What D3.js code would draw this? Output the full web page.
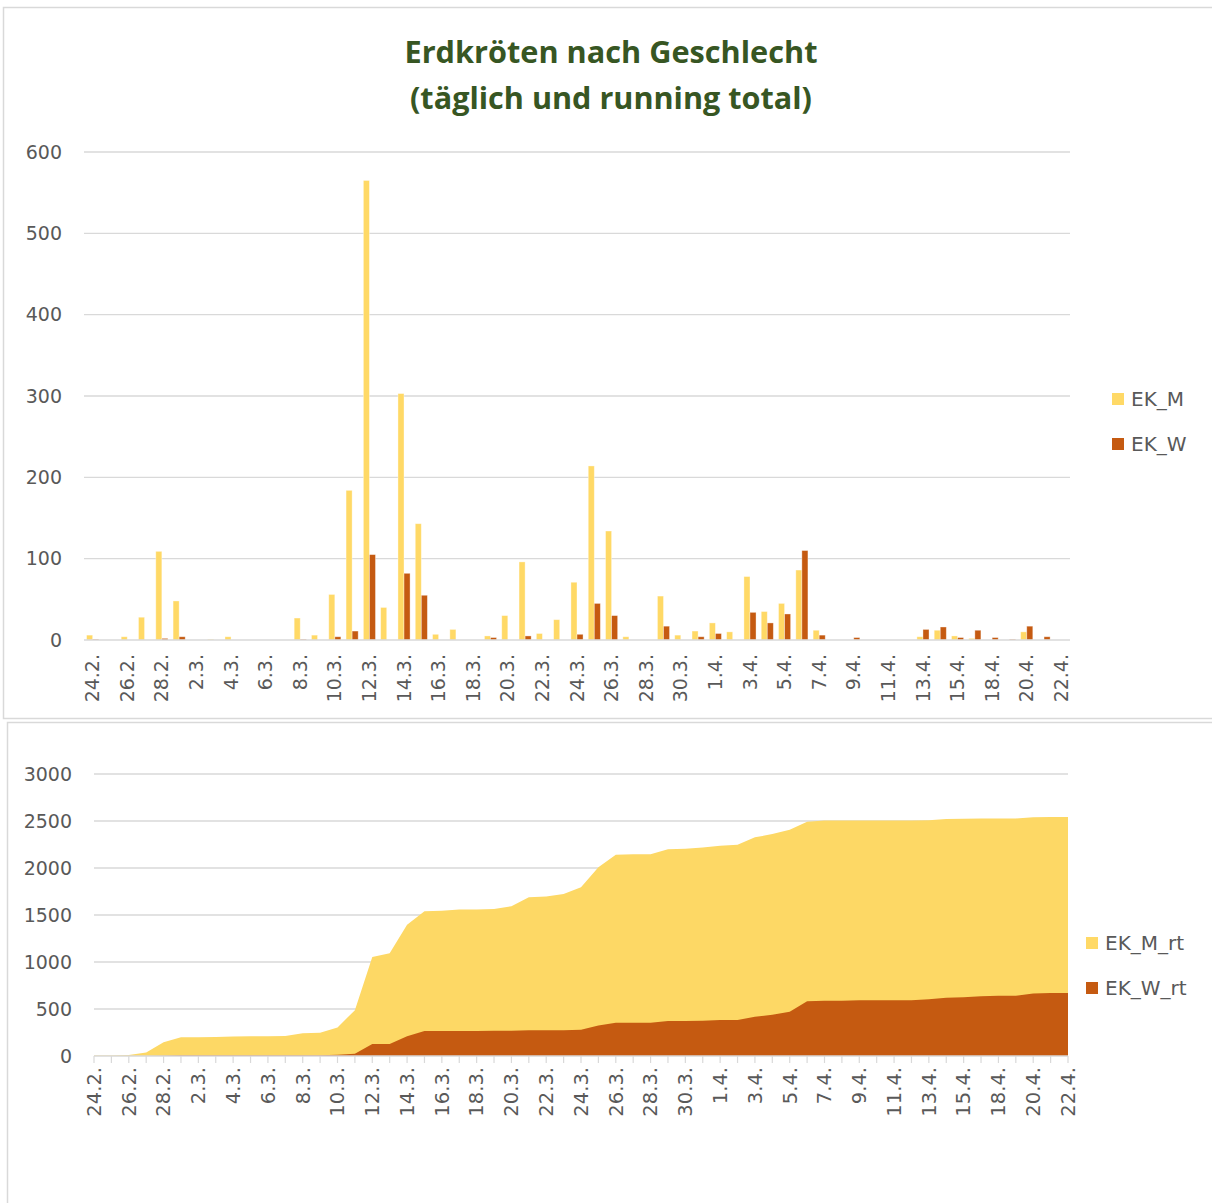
<!DOCTYPE html>
<html><head><meta charset="utf-8">
<script src="https://cdn.jsdelivr.net/npm/d3@7"></script>
<style>
html,body{margin:0;padding:0;background:#fff;}
svg{display:block;font-family:"DejaVu Sans","Open Sans",sans-serif;}
</style></head>
<body>
<svg id="chart" width="1212" height="1203"></svg>
<script>
// ---- data ----
const categories = ["24.2.","25.2.","26.2.","27.2.","28.2.","1.3.","2.3.","3.3.","4.3.","5.3.","6.3.","7.3.","8.3.","9.3.","10.3.","11.3.","12.3.","13.3.","14.3.","15.3.","16.3.","17.3.","18.3.","19.3.","20.3.","21.3.","22.3.","23.3.","24.3.","25.3.","26.3.","27.3.","28.3.","29.3.","30.3.","31.3.","1.4.","2.4.","3.4.","4.4.","5.4.","6.4.","7.4.","8.4.","9.4.","10.4.","11.4.","12.4.","13.4.","14.4.","15.4.","17.4.","18.4.","19.4.","20.4.","21.4.","22.4."];
const EK_M = [6,0,4,28,109,48,0,1,4,0,0,0,27,6,56,184,565,40,303,143,7,13,0,5,30,96,8,25,71,214,134,4,0,54,6,11,21,10,78,35,45,86,12,0,0,0,0,0,4,12,5,2,0,0,10,0,0];
const EK_W = [1,0,0,0,2,4,0,0,0,0,0,0,1,0,4,11,105,0,82,55,0,0,0,3,0,5,0,0,7,45,30,0,0,17,0,4,8,0,34,21,32,110,6,0,3,0,0,0,13,16,3,12,3,1,17,4,0];
const EK_M_rt = [6,6,10,38,147,199,200,203,208,209,210,213,242,248,304,488,1053,1093,1396,1539,1546,1559,1559,1564,1594,1690,1698,1723,1794,2008,2142,2146,2146,2200,2206,2217,2238,2248,2326,2361,2406,2492,2504,2504,2504,2504,2504,2504,2508,2520,2525,2527,2527,2527,2541,2543,2543];
const EK_W_rt = [1,1,1,1,3,7,7,7,7,7,7,7,8,8,12,23,128,128,210,265,265,265,265,268,268,273,273,273,280,325,355,355,355,372,372,376,384,384,418,439,471,583,589,589,592,592,592,592,605,621,624,636,641,642,664,670,670];
const topTicks = [0,100,200,300,400,500,600];
const bottomTicks = [0,500,1000,1500,2000,2500,3000];
const titleLines = ["Erdkröten nach Geschlecht","(täglich und running total)"];
const seriesTop = ["EK_M","EK_W"];
const seriesBottom = ["EK_M_rt","EK_W_rt"];

const colM = "#FFD966", colW = "#C55A11", grid = "#D9D9D9", txt = "#595959";
const svg = d3.select("#chart");

// panel frames
svg.append("rect").attr("x",3.5).attr("y",7.5).attr("width",1240).attr("height",711)
  .attr("fill","#fff").attr("stroke",grid).attr("stroke-width",1.5);
svg.append("rect").attr("x",7.5).attr("y",722.5).attr("width",1240).attr("height",520)
  .attr("fill","#fff").attr("stroke",grid).attr("stroke-width",1.5);

// title
const titleW = [413, 402];
titleLines.forEach((t,i)=>{
  svg.append("text").attr("x",611).attr("y",[63,109][i]).attr("text-anchor","middle")
    .attr("font-family","'Open Sans','Noto Sans',sans-serif")
    .attr("font-size",30).attr("font-weight","bold").attr("fill","#375623")
    .attr("textLength",titleW[i]).attr("lengthAdjust","spacingAndGlyphs").text(t);
});

// ---- top bar chart ----
const x0 = d3.scaleBand().domain(categories).range([84,1070]).paddingInner(0.3).paddingOuter(0.15);
const x1 = d3.scaleBand().domain(seriesTop).range([0,x0.bandwidth()]);
const yT = d3.scaleLinear().domain([0,600]).range([640,152]);

const gT = svg.append("g");
gT.append("g").selectAll("line").data(topTicks.slice(1)).join("line")
  .attr("x1",84).attr("x2",1070).attr("y1",d=>yT(d)).attr("y2",d=>yT(d))
  .attr("stroke",grid).attr("stroke-width",1.3);
gT.append("g").selectAll("text").data(topTicks).join("text")
  .attr("x",62).attr("y",d=>yT(d)).attr("dy","0.35em").attr("text-anchor","end")
  .attr("font-size",19).attr("fill",txt).text(d=>d);

const dataTop = categories.map((c,i)=>({c, EK_M:EK_M[i], EK_W:EK_W[i]}));
const colorTop = d3.scaleOrdinal().domain(seriesTop).range([colM,colW]);
gT.append("g").selectAll("g").data(dataTop).join("g")
  .attr("transform",d=>`translate(${x0(d.c)},0)`)
  .selectAll("rect").data(d=>seriesTop.map(k=>({k,v:d[k]}))).join("rect")
  .attr("x",d=>x1(d.k)).attr("width",x1.bandwidth())
  .attr("y",d=>yT(d.v)).attr("height",d=>yT(0)-yT(d.v))
  .attr("fill",d=>colorTop(d.k)).attr("stroke","#fff").attr("stroke-opacity",0.45).attr("stroke-width",0.8);

gT.append("line").attr("x1",84).attr("x2",1070).attr("y1",yT(0)).attr("y2",yT(0))
  .attr("stroke",grid).attr("stroke-width",1.5);

gT.append("g").selectAll("text").data(categories.filter((c,i)=>i%2===0)).join("text")
  .attr("transform",d=>`translate(${x0(d)+x0.bandwidth()/2},654) rotate(-90)`)
  .attr("dy","0.35em").attr("text-anchor","end").attr("font-size",19).attr("fill",txt).text(d=>d);

// legend top
seriesTop.forEach((s,i)=>{
  const yy = 399 + i*45;
  svg.append("rect").attr("x",1112).attr("y",yy-6).attr("width",12).attr("height",12).attr("fill",colorTop(s));
  svg.append("text").attr("x",1131).attr("y",yy).attr("dy","0.35em").attr("font-size",20).attr("fill",txt).text(s);
});

// ---- bottom area chart ----
const xB = d3.scalePoint().domain(categories).range([94,1068]);
const yB = d3.scaleLinear().domain([0,3000]).range([1056,774]);
const gB = svg.append("g");
gB.append("g").selectAll("line").data(bottomTicks.slice(1)).join("line")
  .attr("x1",94).attr("x2",1068).attr("y1",d=>yB(d)).attr("y2",d=>yB(d))
  .attr("stroke",grid).attr("stroke-width",1.3);
gB.append("g").selectAll("text").data(bottomTicks).join("text")
  .attr("x",72).attr("y",d=>yB(d)).attr("dy","0.35em").attr("text-anchor","end")
  .attr("font-size",19).attr("fill",txt).text(d=>d);

const colorB = d3.scaleOrdinal().domain(seriesBottom).range([colM,colW]);
const area = d3.area().x((d,i)=>xB(categories[i])).y0(yB(0)).y1(d=>yB(d));
gB.append("path").datum(EK_M_rt).attr("d",area).attr("fill","#FDD865");
gB.append("path").datum(EK_W_rt).attr("d",area).attr("fill",colW);

gB.append("line").attr("x1",94).attr("x2",1068).attr("y1",yB(0)).attr("y2",yB(0))
  .attr("stroke",grid).attr("stroke-width",1.5);
gB.append("g").selectAll("line").data(categories).join("line")
  .attr("x1",d=>xB(d)).attr("x2",d=>xB(d)).attr("y1",yB(0)).attr("y2",yB(0)+7)
  .attr("stroke",grid).attr("stroke-width",1.2);
gB.append("g").selectAll("text").data(categories.filter((c,i)=>i%2===0)).join("text")
  .attr("transform",d=>`translate(${xB(d)},1067) rotate(-90)`)
  .attr("dy","0.35em").attr("text-anchor","end").attr("font-size",19.5).attr("fill",txt).text(d=>d);

seriesBottom.forEach((s,i)=>{
  const yy = 943 + i*45;
  svg.append("rect").attr("x",1086).attr("y",yy-6).attr("width",12).attr("height",12).attr("fill",colorB(s));
  svg.append("text").attr("x",1105).attr("y",yy).attr("dy","0.35em").attr("font-size",20).attr("fill",txt).text(s);
});
</script>
</body></html>
